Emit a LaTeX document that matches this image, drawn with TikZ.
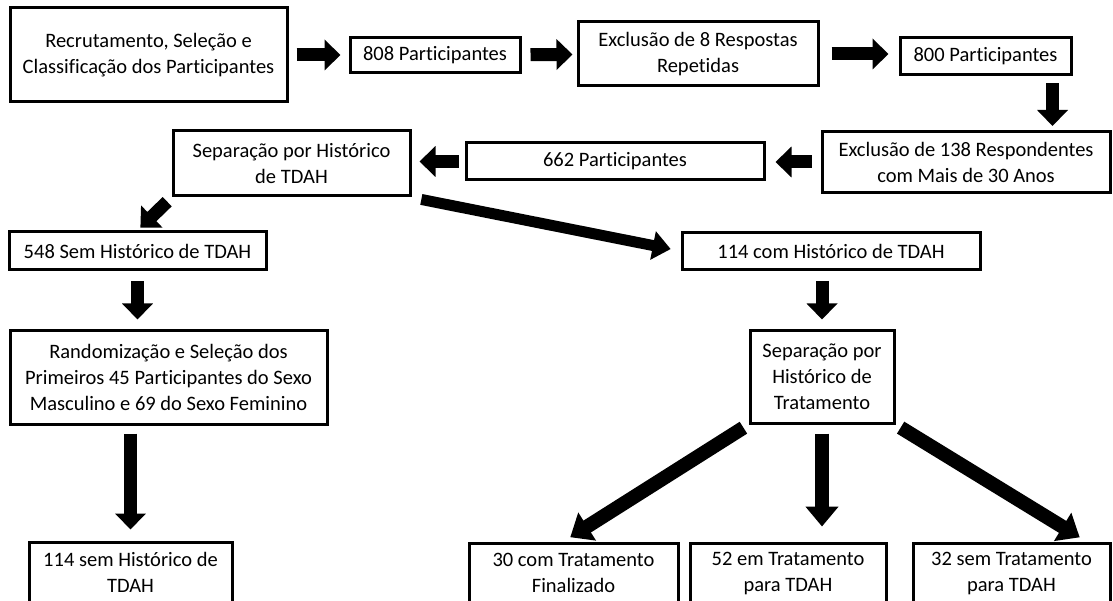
\documentclass[tikz,border=0pt]{standalone}
\usepackage{fontspec}
\setmainfont{Carlito}[Ligatures=NoCommon]
\usetikzlibrary{arrows.meta,calc}

\begin{document}
\begin{tikzpicture}[x=1pt, y=-1pt,
    box/.style={draw=black, line width=3pt, align=center, inner sep=0pt,
                font=\fontsize{20.5}{26}\selectfont},
    flecha/.style={line width=13pt, -{Triangle[length=16pt, width=30pt]}},
    flechafina/.style={line width=11pt, -{Triangle[length=18pt, width=28pt]}},
    flechagrossa/.style={line width=14pt, -{Triangle[length=20pt, width=32pt]}}
]
\clip (0,0) rectangle (1113,601);

% -------- Primeira linha --------
\node[box, minimum width=277pt, minimum height=94pt] (rec) at (148.5,55)
    {Recrutamento, Seleção e\\Classificação dos Participantes};
\node[box, minimum width=170pt, minimum height=35pt] (p808) at (435,55) {808 Participantes};
\node[box, minimum width=240pt, minimum height=64pt] (excl8) at (698,54)
    {Exclusão de 8 Respostas\\Repetidas};
\node[box, minimum width=171pt, minimum height=37pt] (p800) at (985.5,56.5) {800 Participantes};

\draw[flecha, shorten <=8pt, shorten >=8pt] (rec) -- (p808);
\draw[flecha, shorten <=9pt, shorten >=4pt] (p808) -- (excl8);
\draw[flecha, shorten <=12pt, shorten >=10pt] (excl8.east) -- (excl8.east -| p800.west);

% -------- Segunda linha --------
\node[box, minimum width=288pt, minimum height=61pt] (excl138) at (966,162)
    {Exclusão de 138 Respondentes\\com Mais de 30 Anos};
\node[box, minimum width=298pt, minimum height=37pt] (p662) at (615,161.5) {662 Participantes};
\node[box, minimum width=237pt, minimum height=65pt] (sepTDAH) at (291.5,163.5)
    {Separação por Histórico\\de TDAH};

\coordinate (d1) at ($(p800.south east)+(-20,0)$);
\draw[flecha, shorten <=7pt, shorten >=4pt] (d1) -- (d1 |- excl138.north);
\draw[flecha, shorten <=9pt, shorten >=10pt] (excl138.west) -- (excl138.west -| p662.east);
\draw[flecha, shorten <=6pt, shorten >=8pt] (p662.west) -- (p662.west -| sepTDAH.east);

% -------- Ramo sem histórico --------
\node[box, minimum width=257pt, minimum height=38pt] (sem548) at (137.5,251) {548 Sem Histórico de TDAH};
\node[box, minimum width=317pt, minimum height=93pt] (rand) at (168.5,377.5)
    {Randomização e Seleção dos\\Primeiros 45 Participantes do Sexo\\Masculino e 69 do Sexo Feminino};
\node[box, minimum width=203pt, minimum height=60pt] (sem114) at (130.5,572)
    {114 sem Histórico de\\TDAH};

\draw[flecha, shorten <=6pt, shorten >=4pt] (sepTDAH.south west) -- (sem548.north);
\draw[flecha, shorten <=10pt, shorten >=10pt] (sem548.south) -- (sem548.south |- rand.north);
\draw[flecha, shorten <=8pt, shorten >=11pt] (sem114.north |- rand.south) -- (sem114.north);

% -------- Ramo com histórico --------
\node[box, minimum width=298pt, minimum height=37pt] (com114) at (831,251) {114 com Histórico de TDAH};
\node[box, minimum width=144pt, minimum height=92pt] (sepTrat) at (822,377)
    {Separação por\\Histórico de\\Tratamento};
\node[box, minimum width=209pt, minimum height=60pt] (t30) at (573.5,573)
    {30 com Tratamento\\Finalizado};
\node[box, minimum width=196pt, minimum height=60pt] (t52) at (788,573)
    {52 em Tratamento\\para TDAH};
\node[box, minimum width=197pt, minimum height=60pt] (t32) at (1011.5,573)
    {32 sem Tratamento\\para TDAH};

\draw[flechafina, shorten <=10pt, shorten >=10pt] (sepTDAH.south east) -- (com114.west);
\draw[flecha, shorten <=10pt, shorten >=10pt] (com114.south -| sepTrat.north) -- (sepTrat.north);

\coordinate (l3) at ($(t30.north)+(-10,0)$);
\coordinate (r3) at ($(t32.north east)+(-25,0)$);
\draw[flechagrossa, shorten <=6pt, shorten >=8pt] (sepTrat.south west) -- (l3);
\draw[flechagrossa, shorten <=9pt, shorten >=15pt] (sepTrat.south) -- (sepTrat.south |- t52.north);
\draw[flechagrossa, shorten <=6pt, shorten >=8pt] (sepTrat.south east) -- (r3);
\end{tikzpicture}
\end{document}
